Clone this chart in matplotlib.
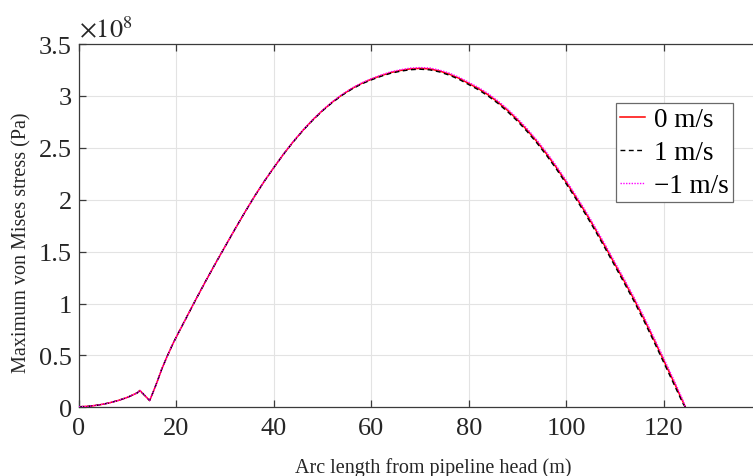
import matplotlib
matplotlib.use("Agg")
import matplotlib.pyplot as plt

plt.rcParams['font.family'] = ['Liberation Serif', 'DejaVu Serif']
plt.rcParams['mathtext.fontset'] = 'stix'

# Arc length along the pipeline (m)
arc_length = [0, 2, 4, 6, 8, 10, 12, 12.5, 14.5, 15.25,
              16, 17, 18, 19, 20, 22, 24, 26, 28, 30, 32, 34, 36, 38, 40,
              42, 44, 46, 48, 50, 52, 54, 56, 58, 60, 62, 64, 66, 68, 70,
              72, 74, 76, 78, 80, 82, 84, 86, 88, 90, 92, 94, 96, 98, 100,
              102, 104, 106, 108, 110, 112, 114, 116, 118, 120, 122, 124, 124.5]

# Maximum von Mises stress (x 1e8 Pa) for each current speed
stress_0 = [0.005, 0.010, 0.022, 0.040, 0.065, 0.097, 0.140, 0.162, 0.065, 0.15,
            0.24, 0.37, 0.48, 0.585, 0.68, 0.86, 1.04, 1.215, 1.385, 1.55, 1.715, 1.875, 2.03, 2.175, 2.31,
            2.44, 2.56, 2.67, 2.77, 2.86, 2.94, 3.01, 3.07, 3.12, 3.16, 3.195, 3.225, 3.245, 3.26, 3.265,
            3.26, 3.24, 3.21, 3.17, 3.12, 3.07, 3.01, 2.94, 2.86, 2.77, 2.67, 2.56, 2.44, 2.31, 2.17,
            2.025, 1.875, 1.715, 1.55, 1.38, 1.21, 1.035, 0.85, 0.655, 0.455, 0.255, 0.05, 0.0]

stress_p1 = [0.005, 0.010, 0.022, 0.040, 0.065, 0.097, 0.140, 0.162, 0.065, 0.15,
             0.24, 0.37, 0.48, 0.585, 0.68, 0.86, 1.04, 1.215, 1.385, 1.55, 1.715, 1.875, 2.03, 2.175, 2.31,
             2.439, 2.558, 2.668, 2.767, 2.857, 2.936, 3.006, 3.065, 3.115, 3.154, 3.189, 3.218, 3.238, 3.252, 3.257,
             3.251, 3.231, 3.200, 3.160, 3.109, 3.059, 2.998, 2.928, 2.847, 2.757, 2.656, 2.546, 2.425, 2.295, 2.154,
             2.009, 1.858, 1.698, 1.532, 1.362, 1.191, 1.016, 0.83, 0.635, 0.435, 0.235, 0.035, 0.0]

stress_m1 = [0.005, 0.010, 0.022, 0.040, 0.065, 0.097, 0.140, 0.162, 0.065, 0.15,
             0.24, 0.37, 0.48, 0.585, 0.68, 0.86, 1.04, 1.215, 1.385, 1.55, 1.715, 1.875, 2.03, 2.175, 2.31,
             2.441, 2.562, 2.672, 2.773, 2.863, 2.944, 3.014, 3.075, 3.125, 3.166, 3.201, 3.232, 3.252, 3.268, 3.273,
             3.269, 3.249, 3.220, 3.180, 3.131, 3.081, 3.022, 2.952, 2.873, 2.783, 2.684, 2.574, 2.455, 2.325, 2.186,
             2.041, 1.892, 1.732, 1.568, 1.398, 1.229, 1.054, 0.87, 0.675, 0.475, 0.275, 0.065, 0.0]

x_ticks = [0, 20, 40, 60, 80, 100, 120]
y_ticks = [0, 0.5, 1, 1.5, 2, 2.5, 3, 3.5]
y_tick_labels = ['0', '0.5', '1', '1.5', '2', '2.5', '3', '3.5']

W, H = 753, 477
fig = plt.figure(figsize=(W / 100, H / 100), dpi=100)
ax = fig.add_axes([79 / W, (H - 408.3) / H, (761 - 79) / W, (408.3 - 45) / H])

ax.plot(arc_length, stress_0, color='#ff0000', lw=1.1, ls='-', label='0 m/s', zorder=3)
ax.plot(arc_length, stress_p1, color='black', lw=1.0, ls=(0, (3.5, 2.5)), label='1 m/s', zorder=4)
ax.plot(arc_length, stress_m1, color='#ff00ff', lw=1.0, ls=(0, (1, 1)), label='\u22121 m/s', zorder=5)

ax.set_xlim(0, 140)
ax.set_ylim(0, 3.5)
ax.set_xticks(x_ticks)
ax.set_yticks(y_ticks)
ax.set_yticklabels(y_tick_labels)

ax.grid(True, color='#e3e3e3', lw=0.8)
ax.set_axisbelow(True)

spine_c = '#3a3a3a'
for s in ax.spines.values():
    s.set_color(spine_c)
    s.set_linewidth(0.9)

ax.tick_params(axis='both', which='both', direction='in', length=5, width=0.9,
               color=spine_c, labelsize=19, labelcolor='#262626',
               top=True, right=True)
ax.tick_params(axis='x', pad=7)
ax.tick_params(axis='y', pad=5)

ax.text(0.0, 1.005, r'$\times10^{8}$', transform=ax.transAxes, fontsize=19,
        color='#262626', ha='left', va='bottom')

ax.set_xlabel('Arc length from pipeline head (m)', fontsize=14.5, color='#262626')
ax.set_ylabel('Maximum von Mises stress (Pa)', fontsize=14.5, color='#262626')
ax.xaxis.set_label_coords(0.519, -0.137)
ax.yaxis.set_label_coords(-0.069, 0.456)

leg = ax.legend(loc='upper right', bbox_to_anchor=(733 / W, 1 - 104 / H),
                bbox_transform=fig.transFigure, fontsize=19.5, frameon=True,
                fancybox=False, framealpha=1, edgecolor='#6a6a6a',
                handlelength=0.9, handletextpad=0.35, labelspacing=0.3,
                borderpad=0.15, borderaxespad=0)
leg.get_frame().set_linewidth(0.9)

fig.savefig('out.png', dpi=100)
